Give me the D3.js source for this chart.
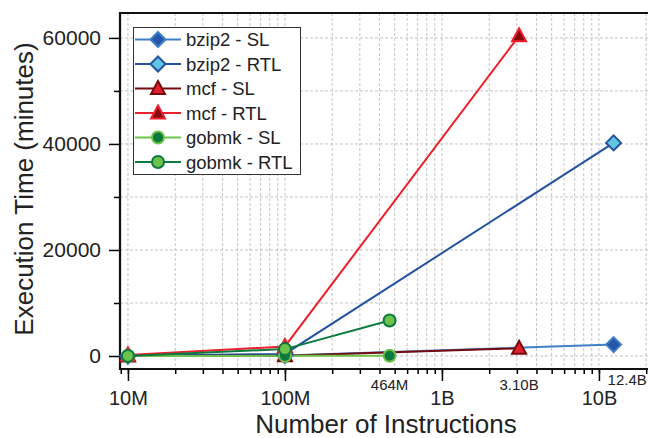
<!DOCTYPE html>
<html lang="en">
<head>
<meta charset="UTF-8">
<title>Execution Time vs Instructions</title>
<script src="https://d3js.org/d3.v7.min.js"></script>
<style>
  body { margin: 0; background: #fff; }
  svg { display: block; font-family: "Liberation Sans", Arial, sans-serif; }
</style>
</head>
<body>
<div id="chart"></div>
<script>
// data
const seriesNames = ["bzip2 - SL", "bzip2 - RTL", "mcf - SL", "mcf - RTL", "gobmk - SL", "gobmk - RTL"];
const bzip2Instr = [1e7, 1e8, 1.24e10];
const mcfInstr = [1e7, 1e8, 3.10e9];
const gobmkInstr = [1e7, 1e8, 4.64e8];
const bzip2SL = [10, 100, 2150];
const bzip2RTL = [40, 400, 40200];
const mcfSL = [10, 50, 1450];
const mcfRTL = [200, 1800, 60400];
const gobmkSL = [5, 30, 60];
const gobmkRTL = [20, 1300, 6700];

const xMajorTicks = [1e7, 1e8, 1e9, 1e10];
const xMajorLabels = ["10M", "100M", "1B", "10B"];
const xExtraTicks = [4.64e8, 3.10e9, 1.24e10];
const xExtraLabels = ["464M", "3.10B", "12.4B"];
const yTicks = [0, 20000, 40000, 60000];

const width = 648, height = 438;
const svg = d3.select("#chart").append("svg")
    .attr("width", width)
    .attr("height", height);

const x = d3.scaleLog().domain([8.9e6, 2.2e10]).range([120, 652.7]);
const y = d3.scaleLinear().domain([-2450, 64700]).range([369, 13]);

// series styles: line colour, marker fill, marker edge, shape
const styles = [
    { line: "#3f80c8", fill: "#2856a6", edge: "#3f80c8", shape: "diamond" },
    { line: "#2452a2", fill: "#62c6de", edge: "#2452a2", shape: "diamond" },
    { line: "#760a0e", fill: "#e3202c", edge: "#760a0e", shape: "triangle" },
    { line: "#ee1f2d", fill: "#86080e", edge: "#ee1f2d", shape: "triangle" },
    { line: "#6cc24a", fill: "#0b7a3c", edge: "#6cc24a", shape: "circle" },
    { line: "#0b7a3c", fill: "#6cc24a", edge: "#0b7a3c", shape: "circle" }
];

const series = [
    { xs: bzip2Instr, ys: bzip2SL },
    { xs: bzip2Instr, ys: bzip2RTL },
    { xs: mcfInstr, ys: mcfSL },
    { xs: mcfInstr, ys: mcfRTL },
    { xs: gobmkInstr, ys: gobmkSL },
    { xs: gobmkInstr, ys: gobmkRTL }
].map((s, i) => ({
    name: seriesNames[i],
    style: styles[i],
    points: s.xs.map((v, j) => ({ x: v, y: s.ys[j] }))
}));

// marker path centred on 0,0
function markerPath(shape) {
    if (shape === "diamond") return "M0,-7.5L7.5,0L0,7.5L-7.5,0Z";
    if (shape === "triangle") return "M0,-7.5L7,5.5L-7,5.5Z";
    return d3.symbol().type(d3.symbolCircle).size(Math.PI * 36)();
}

// grid
const grid = svg.append("g");
const minorX = [];
for (let e = 6; e <= 10; e++) {
    for (let m = 1; m <= 9; m++) {
        const v = m * Math.pow(10, e);
        if (v >= x.domain()[0] && v <= x.domain()[1]) minorX.push(v);
    }
}
grid.selectAll("line.gx").data(minorX).enter().append("line")
    .attr("x1", d => x(d)).attr("x2", d => x(d))
    .attr("y1", 13).attr("y2", 369)
    .attr("stroke", "#c4c4c4").attr("stroke-width", 1)
    .attr("stroke-dasharray", "3,2");
grid.selectAll("line.gy").data(d3.range(0, 60001, 10000)).enter().append("line")
    .attr("x1", 120).attr("x2", width)
    .attr("y1", d => y(d)).attr("y2", d => y(d))
    .attr("stroke", "#c4c4c4").attr("stroke-width", 1)
    .attr("stroke-dasharray", "3,2");

// axes
const xMinorAxis = d3.axisBottom(x).tickValues(minorX).tickSize(5).tickFormat("");
svg.append("g").attr("transform", "translate(0,369)").call(xMinorAxis)
    .call(g => g.select(".domain").remove())
    .selectAll("line").attr("stroke", "#000").attr("stroke-width", 1.5);

const xAxis = d3.axisBottom(x).tickValues(xMajorTicks).tickSize(12).tickPadding(10)
    .tickFormat((d, i) => xMajorLabels[i]);
svg.append("g").attr("transform", "translate(0,369)").call(xAxis)
    .call(g => g.select(".domain").remove())
    .call(g => g.selectAll("line").attr("stroke", "#000").attr("stroke-width", 1.5))
    .selectAll("text").attr("font-size", 20).attr("fill", "#222");

svg.append("g").selectAll("text").data(xExtraTicks).enter().append("text")
    .attr("x", (d, i) => i === 2 ? x(d) - 6 : x(d))
    .attr("y", (d, i) => i === 2 ? 385 : 390)
    .attr("text-anchor", (d, i) => i === 2 ? "start" : "middle")
    .attr("font-size", 15).attr("fill", "#222")
    .text((d, i) => xExtraLabels[i]);

const yMinorAxis = d3.axisLeft(y).tickValues(d3.range(10000, 60001, 20000)).tickSize(6).tickFormat("");
svg.append("g").attr("transform", "translate(120,0)").call(yMinorAxis)
    .call(g => g.select(".domain").remove())
    .selectAll("line").attr("stroke", "#000").attr("stroke-width", 1.5);

const yAxis = d3.axisLeft(y).tickValues(yTicks).tickSize(11).tickPadding(8).tickFormat(d3.format("d"));
svg.append("g").attr("transform", "translate(120,0)").call(yAxis)
    .call(g => g.select(".domain").remove())
    .call(g => g.selectAll("line").attr("stroke", "#000").attr("stroke-width", 1.5))
    .selectAll("text").attr("font-size", 21).attr("fill", "#222");

// frame
svg.append("path")
    .attr("d", `M120,13H${width}M120,12V370M119,369H${width}`)
    .attr("stroke", "#111").attr("stroke-width", 2.2).attr("fill", "none");

// lines
const line = d3.line().x(d => x(d.x)).y(d => y(d.y));
const plot = svg.append("g");
plot.selectAll("path.series").data(series).enter().append("path")
    .attr("d", d => line(d.points))
    .attr("fill", "none")
    .attr("stroke", d => d.style.line)
    .attr("stroke-width", 2);

// markers
series.forEach(s => {
    plot.selectAll(null).data(s.points).enter().append("path")
        .attr("transform", d => `translate(${x(d.x)},${y(d.y)})`)
        .attr("d", markerPath(s.style.shape))
        .attr("fill", s.style.fill)
        .attr("stroke", s.style.edge)
        .attr("stroke-width", 2);
});

// axis titles
svg.append("text")
    .attr("x", 386).attr("y", 433)
    .attr("text-anchor", "middle")
    .attr("font-size", 26).attr("fill", "#222")
    .text("Number of Instructions");
svg.append("text")
    .attr("transform", "translate(33,189) rotate(-90)")
    .attr("text-anchor", "middle")
    .attr("font-size", 26).attr("fill", "#222")
    .text("Execution Time (minutes)");

// legend
const legend = svg.append("g");
legend.append("rect")
    .attr("x", 133.5).attr("y", 27.5).attr("width", 167).attr("height", 147)
    .attr("fill", "#fff").attr("stroke", "#333").attr("stroke-width", 1);
const item = legend.selectAll("g.item").data(series).enter().append("g")
    .attr("transform", (d, i) => `translate(0,${39.5 + i * 24.5})`);
item.append("line")
    .attr("x1", 135).attr("x2", 181).attr("y1", 0).attr("y2", 0)
    .attr("stroke", d => d.style.line).attr("stroke-width", 2);
item.append("path")
    .attr("transform", "translate(158,0)")
    .attr("d", d => markerPath(d.style.shape))
    .attr("fill", d => d.style.fill)
    .attr("stroke", d => d.style.edge)
    .attr("stroke-width", 2);
item.append("text")
    .attr("x", 186).attr("y", 6.5)
    .attr("font-size", 18.5).attr("fill", "#222")
    .text(d => d.name);
</script>
</body>
</html>
